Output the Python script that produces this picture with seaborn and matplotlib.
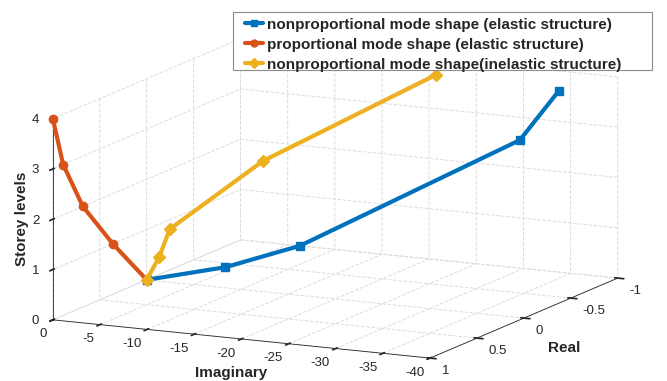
import matplotlib
matplotlib.use("Agg")
import matplotlib.pyplot as plt
import seaborn as sns
import numpy as np
from matplotlib.lines import Line2D
from matplotlib.patches import Rectangle

# ---- data ----
storey = [0, 1, 2, 3, 4]
blue_real = [0, 0.60, 1.03, -0.54, -0.59]
blue_imag = [0, -14.3, -26.5, -34.2, -37.8]
orange_real = [0, 0.36, 0.68, 0.89, 1.0]
orange_imag = [0, 0, 0, 0, 0]
yellow_real = [0, 0.53, 0.96, 0.41, -0.67]
yellow_imag = [0, -6.6, -12.0, -16.4, -24.0]

labels = ["nonproportional mode shape (elastic structure)",
          "proportional mode shape (elastic structure)",
          "nonproportional mode shape(inelastic structure)"]
imag_ticks = [0, -5, -10, -15, -20, -25, -30, -35, -40]
real_ticks = [1, 0.5, 0, -0.5, -1]
z_ticks = [0, 1, 2, 3, 4]

sns.set_theme(style="white")
plt.rcParams['font.family'] = ['Liberation Sans', 'DejaVu Sans']
plt.rcParams['grid.linestyle'] = '--'
plt.rcParams['grid.color'] = '#dcdcdc'
plt.rcParams['grid.linewidth'] = 0.7

colors = ["#0072BD", "#D95319", "#EDB120"]
markers = ["s", "o", "D"]

W, H = 667.0, 381.0
fig = plt.figure(figsize=(W / 100, H / 100), dpi=100)
S = 700.0
w, h = S / W, S / H
cx, cy = 0.4885, 0.4545
ax = fig.add_axes([cx - w / 2, cy - h / 2, w, h], projection='3d', proj_type='ortho')
ax.set_box_aspect((1.0, 1.02, 0.49), zoom=1.615 * 381.0 / S)
ax.view_init(elev=12, azim=116)

series = [(blue_imag, blue_real), (orange_imag, orange_real), (yellow_imag, yellow_real)]
for (im, re), c, m, lab in zip(series, colors, markers, labels):
    ax.plot(im, re, storey, color=c, lw=3.0, marker=m, ms=6, label=lab)

ax.set_xlim(-40, 0)
ax.set_ylim(-1, 1)
ax.set_zlim(0, 4)
ax.set_xticks(imag_ticks)
ax.set_yticks(real_ticks)
ax.set_zticks(z_ticks)
ax.set_xticklabels([f"{t:g}" for t in imag_ticks], ha='right')
ax.set_yticklabels([f"{t:g}" for t in real_ticks], ha='left')
ax.set_zticklabels([f"{t:g}" for t in z_ticks], va='center')

for axis in (ax.xaxis, ax.yaxis, ax.zaxis):
    axis.set_pane_color((1, 1, 1, 0))
    axis.pane.set_edgecolor((1, 1, 1, 0))
    axis.line.set_color('#262626')
    axis.line.set_linewidth(0.6)
ax.tick_params(labelsize=9.5, colors='#262626', pad=0)
ax.zaxis.set_ticks_position('upper')
ax.zaxis.set_label_position('upper')

# axis titles placed as figure text to match the reference layout
lab_kw = dict(fontsize=11, fontweight='bold', color='#262626', ha='center', va='center')
fig.text(231 / W, 1 - 373 / H, "Imaginary", **lab_kw)
fig.text(564 / W, 1 - 348 / H, "Real", **lab_kw)
fig.text(22 / W, 1 - 219 / H, "Storey levels", rotation=90, **lab_kw)

# legend box (MATLAB-style wide frame) and entries
fig.patches.append(Rectangle((233 / W, 1 - 70 / H), 419 / W, 58 / H, transform=fig.transFigure,
                             facecolor='white', edgecolor='#8c8c8c', linewidth=0.8, zorder=4))
handles = [Line2D([0], [0], color=c, lw=3.0, marker=m, ms=5) for c, m in zip(colors, markers)]
leg = fig.legend(handles, labels, loc='upper left', bbox_to_anchor=(245 / W, 1 - 17.5 / H),
                 prop={'weight': 'bold', 'size': 11}, frameon=False,
                 handlelength=1.18, handletextpad=0.26, labelspacing=0.4, borderpad=0,
                 borderaxespad=0)
leg.set_zorder(5)

fig.savefig("out.png", dpi=100)
